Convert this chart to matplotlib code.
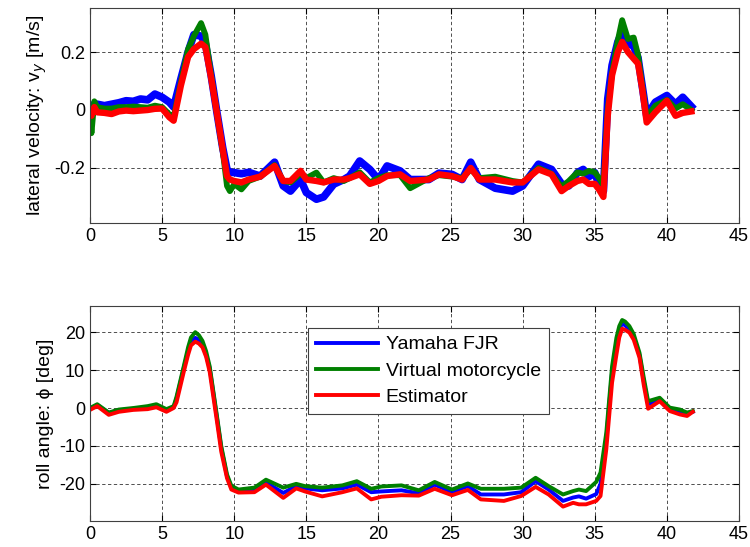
import matplotlib
matplotlib.use("Agg")
import matplotlib.pyplot as plt

plt.rcParams['font.family'] = ['Liberation Sans', 'DejaVu Sans']
plt.rcParams['axes.unicode_minus'] = False

# ---- lateral velocity (top) ----
t_top = [0, 0.1, 0.3, 0.5, 1.0, 1.5, 2.0, 2.5, 3.0, 3.5, 4.0, 4.5, 5.0, 5.5, 5.8,
         6.3, 6.8, 7.2, 7.7, 8.0, 8.4, 8.8, 9.2, 9.5, 9.7, 10.0, 10.5, 11.0, 11.8,
         12.8, 13.4, 13.9, 14.6, 15.0, 15.7, 16.2, 16.9, 17.6, 18.0, 18.7, 19.4,
         20.0, 20.6, 21.5, 22.2, 23.5, 24.2, 25.1, 25.8, 26.4, 27.0, 28.1, 29.3,
         30.0, 31.1, 32.0, 32.7, 33.2, 33.8, 34.2, 34.6, 35.0, 35.3, 35.6, 35.9,
         36.2, 36.6, 36.9, 37.3, 37.7, 38.0, 38.3, 38.6, 39.2, 40.0, 40.6, 41.1, 41.7]

vy_yamaha = [0.015, 0.01, 0.02, 0.02, 0.015, 0.02, 0.025, 0.032, 0.03, 0.038, 0.035,
             0.055, 0.044, 0.027, 0.01, 0.107, 0.2, 0.26, 0.255, 0.23, 0.119, -0.008,
             -0.13, -0.205, -0.215, -0.216, -0.22, -0.215, -0.228, -0.18, -0.262,
             -0.28, -0.24, -0.285, -0.308, -0.30, -0.256, -0.24, -0.228, -0.176,
             -0.205, -0.24, -0.193, -0.21, -0.24, -0.24, -0.218, -0.222, -0.24, -0.18,
             -0.24, -0.27, -0.28, -0.262, -0.187, -0.205, -0.255, -0.262, -0.216,
             -0.205, -0.23, -0.216, -0.26, -0.28, 0.038, 0.154, 0.235, 0.27, 0.23,
             0.22, 0.18, 0.08, -0.02, 0.027, 0.05, 0.02, 0.044, 0.012]

vy_virtual = [0.0, -0.08, 0.03, 0.01, 0.005, 0.005, 0.01, 0.01, 0.012, 0.01, 0.008,
              0.015, 0.01, -0.015, -0.025, 0.095, 0.21, 0.255, 0.30, 0.26, 0.12, -0.01,
              -0.14, -0.262, -0.28, -0.256, -0.274, -0.245, -0.23, -0.19, -0.245,
              -0.25, -0.22, -0.235, -0.216, -0.25, -0.235, -0.245, -0.235, -0.215,
              -0.25, -0.235, -0.225, -0.225, -0.27, -0.235, -0.225, -0.23, -0.235,
              -0.205, -0.235, -0.23, -0.245, -0.25, -0.2, -0.22, -0.265, -0.245,
              -0.215, -0.22, -0.21, -0.215, -0.235, -0.26, 0.0, 0.13, 0.24, 0.31,
              0.245, 0.25, 0.19, 0.08, -0.025, 0.015, 0.035, 0.005, 0.02, 0.0]

vy_estimator = [-0.01, -0.02, 0.01, -0.008, -0.01, -0.014, -0.005, -0.002, -0.004,
                -0.002, 0.0, 0.004, 0.005, -0.025, -0.037, 0.084, 0.183, 0.21, 0.229,
                0.217, 0.11, -0.01, -0.135, -0.228, -0.24, -0.245, -0.25, -0.24, -0.23,
                -0.193, -0.245, -0.245, -0.21, -0.24, -0.245, -0.25, -0.24, -0.24,
                -0.235, -0.222, -0.255, -0.245, -0.228, -0.222, -0.245, -0.24, -0.222,
                -0.228, -0.24, -0.2, -0.24, -0.24, -0.25, -0.25, -0.205, -0.222, -0.28,
                -0.262, -0.245, -0.24, -0.255, -0.255, -0.275, -0.30, -0.02, 0.12, 0.2,
                0.235, 0.2, 0.177, 0.16, 0.07, -0.043, -0.008, 0.032, -0.02, -0.01, -0.005]

# ---- roll angle (bottom) ----
t_bot = [0, 0.5, 1.3, 2.0, 3.0, 4.0, 4.6, 5.3, 5.8, 6.0, 6.5, 6.8, 7.0, 7.3, 7.55, 7.8,
         8.05, 8.3, 8.8, 9.1, 9.5, 9.8, 10.3, 11.4, 12.2, 13.4, 14.3, 14.9, 16.1, 17.5,
         18.5, 19.5, 20.2, 21.6, 22.8, 23.9, 25.1, 26.2, 27.1, 28.7, 29.9, 30.9, 31.8,
         32.8, 33.5, 33.9, 34.4, 35.1, 35.4, 35.8, 36.2, 36.5, 36.7, 36.9, 37.1, 37.4,
         37.7, 38.1, 38.4, 38.7, 39.5, 40.2, 40.9, 41.4, 41.8]

roll_yamaha = [-0.2, 0.8, -1.3, -0.6, -0.2, 0.2, 0.6, -0.6, 0.2, 2.5, 10.5, 15, 17.5, 18.5,
               18, 16.8, 14, 10.5, -2.5, -10.5, -18, -20.8, -21.7, -21.5, -19.6, -22.4,
               -20.6, -21.2, -21.7, -21.2, -20.2, -22.2, -22, -21.7, -22.5, -20.2, -22.2,
               -20.6, -22.8, -22.8, -22.2, -19.3, -21.5, -24.5, -23.6, -23.3, -23.9,
               -22.7, -20, -8, 9.5, 17, 20.8, 22.3, 21.8, 20.8, 18.8, 14, 7, 1, 2.2, -0.3,
               -1, -1.6, -1]

roll_virtual = [0, 1.0, -1.2, -0.4, 0, 0.5, 1.0, -0.3, 0.5, 3, 11, 16, 18.6, 20, 19.2,
                17.7, 15, 11, -2, -10, -17.5, -20.5, -21.5, -21, -18.9, -21, -20, -20.6,
                -21, -20.4, -19.3, -21.3, -20.7, -20.4, -21.7, -19.5, -21.5, -19.9,
                -21.3, -21.3, -21, -18.4, -20.6, -22.8, -21.9, -21.5, -21.9, -19.5, -17,
                -6.5, 11, 18.5, 21.6, 23.2, 22.8, 21.6, 19.5, 14.6, 8, 1.8, 2.7, 0.1,
                -0.4, -1.2, -0.8]

roll_estimator = [-0.5, 0.5, -1.8, -1.0, -0.5, -0.3, 0.2, -1.0, 0, 1.5, 9.5, 14, 16.5,
                  17.5, 17, 16, 13.5, 9.5, -3.5, -11.5, -18.5, -21.5, -22.3, -22.2, -20.2,
                  -23.7, -21.2, -22, -23.3, -22.2, -21.2, -24.1, -23.4, -23, -23.1, -21.3,
                  -23, -21.6, -24.1, -24.5, -23.2, -20.8, -22.8, -26, -25, -25.4, -25.4,
                  -24.5, -23.2, -10.9, 6.7, 14, 18.6, 20.9, 20.6, 19.9, 18, 13.3, 6, -0.2,
                  1.8, -0.8, -1.7, -2.1, -1.0]

labels = ["Yamaha FJR", "Virtual motorcycle", "Estimator"]
colors = ["#0000ff", "#008000", "#ff0000"]

fig = plt.figure(figsize=(7.5, 5.47), dpi=100)
ax1 = fig.add_axes([0.12, 0.5923, 0.8653, 0.3931])
ax2 = fig.add_axes([0.12, 0.0475, 0.8653, 0.3931])

ax1.plot(t_top, vy_yamaha, color=colors[0], lw=5.5, solid_joinstyle="round")
ax1.plot(t_top, vy_virtual, color=colors[1], lw=4.2, solid_joinstyle="round")
ax1.plot(t_top, vy_estimator, color=colors[2], lw=4.6, solid_joinstyle="round")
ax1.set_ylim(-0.39, 0.352)
ax1.set_yticks([-0.2, 0, 0.2])
ax1.set_yticklabels(["-0.2", "0", "0.2"])
ax1.set_ylabel("lateral velocity: v$_y$ [m/s]", fontsize=14)

for ys, c, lab in zip([roll_yamaha, roll_virtual, roll_estimator], colors, labels):
    ax2.plot(t_bot, ys, color=c, lw=2.8, label=lab, solid_joinstyle="round")
ax2.set_ylim(-29.8, 26.9)
ax2.set_yticks([-20, -10, 0, 10, 20])
ax2.set_ylabel("roll angle: ϕ [deg]", fontsize=14)

for ax in (ax1, ax2):
    ax.set_xlim(0, 45)
    ax.set_xticks(range(0, 46, 5))
    ax.grid(True, color="k", linestyle=(0, (4, 3)), linewidth=0.6, alpha=0.8)
    ax.tick_params(direction="in", top=True, right=True, length=4, labelsize=13)
    for s in ax.spines.values():
        s.set_color("#404040")
        s.set_linewidth(0.8)

leg = ax2.legend(loc="upper left", bbox_to_anchor=(0.336, 0.898), fontsize=14,
                 fancybox=False, edgecolor="#404040", framealpha=1, borderaxespad=0,
                 handlelength=3.2, handletextpad=0.4, labelspacing=0.45, borderpad=0.4)
leg.get_frame().set_linewidth(0.8)

fig.savefig("out.png", dpi=100)
